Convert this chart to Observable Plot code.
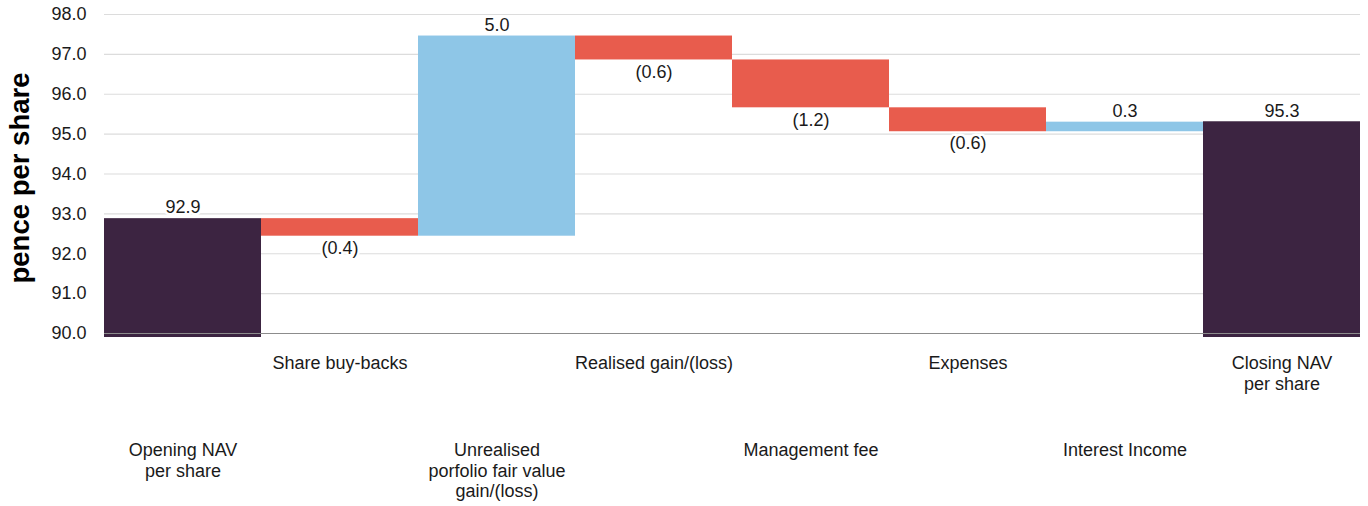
<!DOCTYPE html>
<html>
<head>
<meta charset="utf-8">
<script src="https://cdn.jsdelivr.net/npm/d3@7"></script>
<script src="https://cdn.jsdelivr.net/npm/@observablehq/plot@0.6"></script>
<style>
  html, body { margin: 0; padding: 0; background: #ffffff; }
  #chart { width: 1368px; height: 506px; }
</style>
</head>
<body>
<div id="chart"></div>
<script>
const categories = [
  "Opening NAV\nper share",
  "Share buy-backs",
  "Unrealised\nporfolio fair value\ngain/(loss)",
  "Realised gain/(loss)",
  "Management fee",
  "Expenses",
  "Interest Income",
  "Closing NAV\nper share"
];
const kinds = ["total", "decrease", "increase", "decrease", "decrease", "decrease", "increase", "total"];
const values = [92.88, -0.44, 5.02, -0.60, -1.20, -0.60, 0.24, 95.31];
const valueLabels = ["92.9", "(0.4)", "5.0", "(0.6)", "(1.2)", "(0.6)", "0.3", "95.3"];
const yTicks = [90, 91, 92, 93, 94, 95, 96, 97, 98];
const yLabel = "pence per share";

const colors = {total: "#3c2441", decrease: "#e85c4d", increase: "#8ec6e7"};
const font = "'Liberation Sans', Arial, Helvetica, sans-serif";

let running = 0;
const rows = categories.map((cat, i) => {
  const v = values[i];
  let lo, hi;
  if (kinds[i] === "total") {
    lo = 90; hi = v; running = v;
  } else {
    const next = running + v;
    lo = Math.min(running, next); hi = Math.max(running, next);
    running = next;
  }
  return {cat, kind: kinds[i], lo, hi, label: valueLabels[i]};
});

const upperRow = categories.filter((d, i) => i % 2 === 1);
const lowerRow = categories.filter((d, i) => i % 2 === 0);

const chart = Plot.plot({
  width: 1368,
  height: 506,
  marginLeft: 104,
  marginRight: 8,
  marginTop: 14,
  marginBottom: 173,
  style: {fontFamily: font, fontSize: "18px", color: "#1a1a1a", background: "#ffffff"},
  x: {type: "band", domain: categories, padding: 0},
  y: {domain: [90, 98]},
  marks: [
    Plot.gridY(yTicks, {stroke: "#dcdcdc", strokeOpacity: 1, strokeWidth: 1.2}),
    Plot.barY(rows.filter(d => d.kind !== "total"), {
      x: "cat", y1: "lo", y2: "hi", fill: d => colors[d.kind]
    }),
    Plot.barY(rows.filter(d => d.kind === "total"), {
      x: "cat", y1: "lo", y2: "hi", fill: d => colors[d.kind], insetBottom: -4
    }),
    Plot.ruleY([90], {stroke: "#8c8c8c", strokeWidth: 1.2}),
    Plot.text(rows.filter(d => d.kind !== "decrease"), {
      x: "cat", y: "hi", text: "label", dy: -11, fontSize: 18, fill: "#1a1a1a",
      stroke: "#ffffff", strokeWidth: 5
    }),
    Plot.text(rows.filter(d => d.kind === "decrease"), {
      x: "cat", y: "lo", text: "label", dy: 12, fontSize: 18, fill: "#1a1a1a",
      stroke: "#ffffff", strokeWidth: 5
    }),
    Plot.axisY(yTicks, {
      tickSize: 0, tickPadding: 18, tickFormat: d3.format(".1f"), fontSize: 18, label: null
    }),
    Plot.axisX(upperRow, {
      tickSize: 0, tickPadding: 21, fontSize: 18, lineHeight: 1.14, label: null
    }),
    Plot.axisX(lowerRow, {
      tickSize: 0, tickPadding: 108, fontSize: 18, lineHeight: 1.14, label: null
    }),
    Plot.text([yLabel], {
      frameAnchor: "left", dx: -84, dy: 4, rotate: -90, textAnchor: "middle",
      fontSize: 27.5, fontWeight: "bold", fill: "#000000"
    })
  ]
});
document.getElementById("chart").appendChild(chart);
</script>
</body>
</html>
